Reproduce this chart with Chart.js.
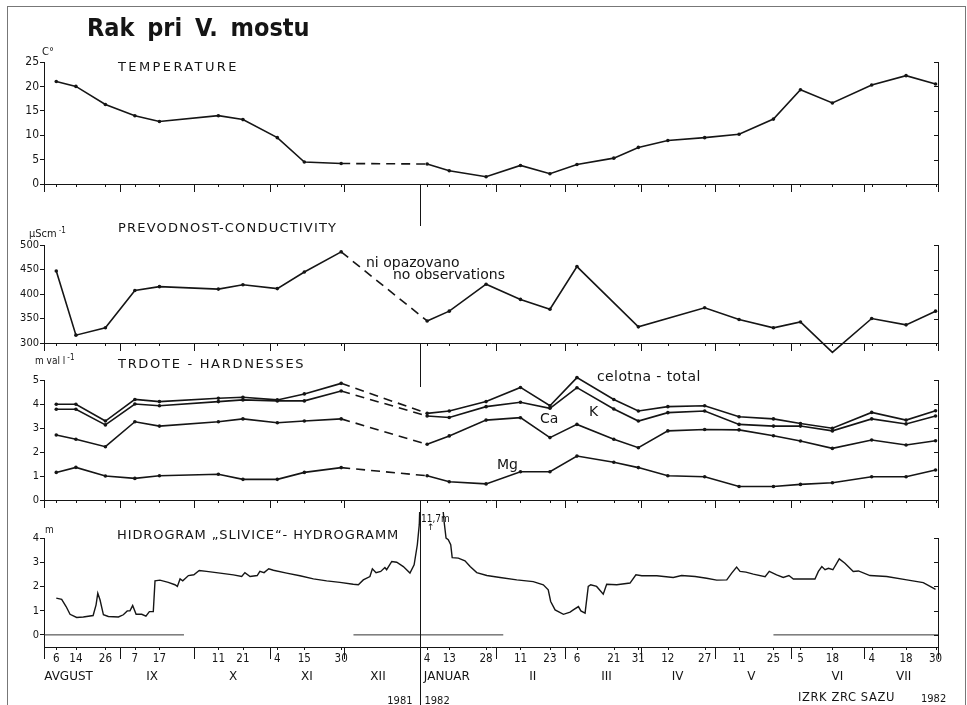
<!DOCTYPE html>
<html>
<head>
<meta charset="utf-8">
<script src="https://cdn.jsdelivr.net/npm/chart.js@4.4.1/dist/chart.umd.min.js"></script>
<style>
  body { margin: 0; background: #fff; }
  #wrap { position: relative; width: 967px; height: 705px; overflow: hidden; background: #fff;
          font-family: "DejaVu Sans", sans-serif; color: #151515; }
  canvas { position: absolute; left: 0; top: 0; }
  .t { position: absolute; white-space: nowrap; line-height: 1; }
  .cap { font-size: 13px; letter-spacing: 1.2px; }
  .cond { font-family: "DejaVu Sans Condensed", "DejaVu Sans", sans-serif; }
  .sup { font-size: 8px; position: relative; top: -4px; margin-left: 2px; }
  .frame { position: absolute; left: 7px; top: 6px; width: 957px; height: 720px; border: 1px solid #777; }
</style>
</head>
<body>
<div id="wrap">
  <div class="frame"></div>
  <canvas id="cTemp" width="967" height="705"></canvas>
  <canvas id="cCond" width="967" height="705"></canvas>
  <canvas id="cHard" width="967" height="705"></canvas>
  <canvas id="cHydro" width="967" height="705"></canvas>

  <div class="t cond" style="left:87px;top:15px;font-size:25px;font-weight:bold;word-spacing:5px">Rak pri V. mostu</div>

  <div class="t cond" style="left:42px;top:46px;font-size:11px">C°</div>
  <div class="t cap" style="left:118px;top:60px;letter-spacing:2.4px">TEMPERATURE</div>

  <div class="t cond" style="left:29px;top:228px;font-size:11px">µScm<span class="sup">-1</span></div>
  <div class="t cap" style="left:118px;top:221px">PREVODNOST-CONDUCTIVITY</div>
  <div class="t" style="left:366px;top:255px;font-size:14px">ni opazovano</div>
  <div class="t" style="left:393px;top:267px;font-size:14px">no observations</div>

  <div class="t cond" style="left:35px;top:356px;font-size:10px">m val l<span class="sup">-1</span></div>
  <div class="t cap" style="left:118px;top:357px;letter-spacing:1.7px">TRDOTE - HARDNESSES</div>
  <div class="t" style="left:597px;top:369px;font-size:14px;letter-spacing:0.4px">celotna - total</div>
  <div class="t" style="left:589px;top:404px;font-size:14px">K</div>
  <div class="t" style="left:540px;top:411px;font-size:14px">Ca</div>
  <div class="t" style="left:497px;top:457px;font-size:14px">Mg</div>

  <div class="t cond" style="left:45px;top:525px;font-size:10px">m</div>
  <div class="t cap" style="left:117px;top:528px;letter-spacing:0.9px">HIDROGRAM „SLIVICE“- HYDROGRAMM</div>
  <div class="t cond" style="left:421px;top:514px;font-size:10px">11,7m</div>
  <div class="t" style="left:427px;top:523px;font-size:9px">↑</div>

  <div class="t" style="left:798px;top:692px;font-size:11.5px;letter-spacing:0.6px">IZRK ZRC SAZU</div>
  <div class="t cond" style="left:921px;top:693px;font-size:11px">1982</div>
</div>

<script>
const INK = '#151515';
const H = 705;

// sampling dates (same for temperature, conductivity and hardness)
const sampleDates = ['1981-08-06', '1981-08-14', '1981-08-26', '1981-09-07', '1981-09-17', '1981-10-11',
  '1981-10-21', '1981-11-04', '1981-11-15', '1981-11-30', '1982-01-04', '1982-01-13', '1982-01-28',
  '1982-02-11', '1982-02-23', '1982-03-06', '1982-03-21', '1982-03-31', '1982-04-12', '1982-04-27',
  '1982-05-11', '1982-05-25', '1982-06-05', '1982-06-18', '1982-07-04', '1982-07-18', '1982-07-30'];

const temperature = [21, 20, 16.3, 14, 12.8, 14, 13.2, 9.5, 4.5, 4.2, 4.1, 2.7, 1.5, 3.8, 2.1, 4.0,
  5.3, 7.5, 8.9, 9.5, 10.2, 13.3, 19.3, 16.6, 20.3, 22.2, 20.5];

const conductivity = [447, 316, 331, 407, 415, 410, 419, 411, 445, 486, 345, 365, 420, 389, 369, 456,
  null, 333, null, 372, 348, 331, 343, 281, 350, 337, 365];

const hardTotal = [3.99, 3.99, 3.29, 4.19, 4.1, 4.24, 4.28, 4.17, 4.42, 4.86, 3.61, 3.71, 4.1, 4.69,
  3.93, 5.1, 4.19, 3.71, 3.89, 3.93, 3.47, 3.38, 3.19, 2.99, 3.65, 3.33, 3.72];
const hardK = [3.78, 3.78, 3.13, 4.0, 3.93, 4.1, 4.17, 4.13, 4.13, 4.54, 3.5, 3.44, 3.89, 4.07, 3.82,
  4.68, 3.79, 3.29, 3.64, 3.71, 3.15, 3.08, 3.08, 2.88, 3.38, 3.17, 3.5];
const hardCa = [2.71, 2.53, 2.22, 3.26, 3.08, 3.26, 3.38, 3.22, 3.29, 3.38, 2.32, 2.67, 3.33, 3.43, 2.6,
  3.15, 2.53, 2.18, 2.88, 2.94, 2.92, 2.68, 2.46, 2.15, 2.5, 2.29, 2.47];
const hardMg = [1.15, 1.36, 1.0, 0.9, 1.01, 1.07, 0.86, 0.86, 1.15, 1.35, 1.01, 0.76, 0.67, 1.18, 1.18,
  1.83, 1.57, 1.35, 1.01, 0.97, 0.56, 0.56, 0.65, 0.72, 0.97, 0.97, 1.25];

// hydrogram: days after 1 Aug 1981, water level in m
const hydroDays = [5, 7.2, 9, 10.6, 13.3, 16, 20, 21.2, 21.9, 22.8, 24.2, 26.2, 30.3, 32.3, 33.9, 35,
  36.1, 37.5, 39.8, 41.5, 42.9, 44.5, 45.2, 47.2, 50.6, 53.3, 54.3, 55.4, 56.5, 58.8, 61, 63.2, 66.2,
  71.7, 77.1, 80.5, 81.8, 83.9, 86.8, 87.9, 89.6, 91.5, 93.4, 98.8, 104.2, 109.7, 115.1, 120.5, 125.9,
  128, 130, 132.7, 133.7, 135.2, 137.1, 138.8, 139.5, 141.6, 143.6, 146.3, 149, 150.7, 152, 152.8, 154,
  155.5, 157.5, 160, 162.9, 163.7, 164.6, 165.6, 166.2, 168.7, 171.4, 173.5, 176.2, 180.3, 185.7, 192.5,
  199.2, 203.3, 205.3, 206.3, 208.1, 211.5, 214.2, 215.5, 217.6, 218.6, 220.3, 221.6, 222.6, 225, 227.7,
  229.1, 233.2, 238.6, 241, 243.4, 246.7, 249.5, 256.2, 259.6, 265.1, 269.8, 273.9, 278, 280, 282, 283.4,
  285.8, 288.8, 293.6, 295.3, 298.3, 301, 303.3, 305.1, 313.9, 315.3, 316.7, 318, 319.4, 321.2, 323.8,
  326.1, 329.5, 331.6, 336.3, 343.1, 351.3, 358, 362.1, 363];
const hydroLevels = [1.52, 1.47, 1.17, 0.85, 0.72, 0.74, 0.8, 1.24, 1.72, 1.45, 0.83, 0.76, 0.74, 0.83,
  0.99, 0.99, 1.21, 0.85, 0.85, 0.77, 0.96, 0.96, 2.23, 2.26, 2.17, 2.07, 2.0, 2.31, 2.23, 2.45, 2.48,
  2.66, 2.62, 2.55, 2.48, 2.41, 2.57, 2.41, 2.45, 2.62, 2.57, 2.73, 2.67, 2.55, 2.44, 2.31, 2.23, 2.17,
  2.09, 2.07, 2.27, 2.41, 2.73, 2.57, 2.62, 2.78, 2.69, 3.03, 3.0, 2.82, 2.55, 2.89, 3.72, 4.55, 8.5,
  11.7, 11.5, 8, 4.68, 4.0, 3.93, 3.72, 3.19, 3.17, 3.06, 2.82, 2.57, 2.45, 2.37, 2.27, 2.2, 2.07, 1.86,
  1.38, 1.03, 0.85, 0.94, 1.03, 1.17, 0.99, 0.9, 2.0, 2.07, 2.0, 1.68, 2.09, 2.07, 2.14, 2.48, 2.44,
  2.44, 2.44, 2.37, 2.45, 2.41, 2.34, 2.26, 2.27, 2.55, 2.8, 2.62, 2.59, 2.51, 2.4, 2.62, 2.48, 2.37,
  2.45, 2.31, 2.31, 2.62, 2.82, 2.69, 2.75, 2.69, 3.14, 2.96, 2.62, 2.64, 2.45, 2.41, 2.27, 2.16, 1.93, 1.88];

// stretches drawn on the zero line of the hydrogram (days after 1 Aug 1981)
const zeroStart = [0, 126, 297];
const zeroEnd = [57, 187, 364];

const monthStarts = ['1981-08-01', '1981-09-01', '1981-10-01', '1981-11-01', '1981-12-01', '1982-01-01',
  '1982-02-01', '1982-03-01', '1982-04-01', '1982-05-01', '1982-06-01', '1982-07-01', '1982-07-31'];
const monthNames = ['AVGUST', 'IX', 'X', 'XI', 'XII', 'JANUAR', 'II', 'III', 'IV', 'V', 'VI', 'VII'];
const monthLabelAt = ['1981-08-11', '1981-09-14', '1981-10-17', '1981-11-16', '1981-12-15', '1982-01-12',
  '1982-02-16', '1982-03-18', '1982-04-16', '1982-05-16', '1982-06-20', '1982-07-17'];

const tempTicks = [0, 5, 10, 15, 20, 25];
const condTicks = [300, 350, 400, 450, 500];
const hardTicks = [0, 1, 2, 3, 4, 5];
const hydroTicks = [0, 1, 2, 3, 4];

const dayOf = s => (Date.UTC(+s.slice(0, 4), +s.slice(5, 7) - 1, +s.slice(8, 10)) - Date.UTC(1981, 7, 1)) / 864e5;
const sampleDays = sampleDates.map(dayOf);
const gapStart = dayOf('1981-11-30');
const janFirst = dayOf('1982-01-01');

function series(values) {
  return {
    data: sampleDays.map((d, i) => ({ x: d, y: values[i] })),
    borderColor: INK, borderWidth: 1.6, pointRadius: 1.8, pointBackgroundColor: INK,
    pointBorderWidth: 0, tension: 0, spanGaps: true, clip: 20,
    segment: { borderDash: c => c.p0.parsed.x === gapStart ? [9, 6] : undefined }
  };
}

// month ticks, sample ticks, inward ticks on the right axis, the 1981/1982 divider and date labels
const dateAxis = {
  id: 'dateAxis',
  afterDraw(chart, args, o) {
    const { ctx, chartArea: a, scales: { x, y } } = chart;
    ctx.save();
    ctx.strokeStyle = INK;
    ctx.lineWidth = 1;
    ctx.beginPath();
    monthStarts.forEach(m => {
      const px = Math.round(x.getPixelForValue(dayOf(m))) + 0.5;
      ctx.moveTo(px, a.bottom); ctx.lineTo(px, a.bottom + o.monthTick);
    });
    sampleDays.forEach(d => {
      const px = Math.round(x.getPixelForValue(d)) + 0.5;
      ctx.moveTo(px, a.bottom); ctx.lineTo(px, a.bottom + o.sampleTick);
    });
    y.ticks.forEach(t => {
      const py = Math.round(y.getPixelForValue(t.value)) + 0.5;
      ctx.moveTo(a.right, py); ctx.lineTo(a.right - 4, py);
    });
    const j = Math.round(x.getPixelForValue(janFirst)) + 0.5;
    ctx.moveTo(j, a.bottom + o.divider[0]); ctx.lineTo(j, a.bottom + o.divider[1]);
    ctx.stroke();
    if (o.labels) {
      ctx.fillStyle = INK;
      ctx.textAlign = 'center';
      ctx.textBaseline = 'alphabetic';
      ctx.font = '11.5px "DejaVu Sans Condensed", "DejaVu Sans", sans-serif';
      sampleDates.forEach((s, i) => {
        ctx.fillText(String(+s.slice(8, 10)), x.getPixelForValue(sampleDays[i]), a.bottom + 15);
      });
      ctx.font = '12px "DejaVu Sans", sans-serif';
      monthNames.forEach((n, i) => {
        ctx.fillText(n, x.getPixelForValue(dayOf(monthLabelAt[i])), a.bottom + 33);
      });
      ctx.font = '11px "DejaVu Sans Condensed", "DejaVu Sans", sans-serif';
      ctx.textAlign = 'right';
      ctx.fillText('1981', j - 8, a.bottom + 57);
      ctx.textAlign = 'left';
      ctx.fillText('1982', j + 4, a.bottom + 57);
    }
    ctx.restore();
  }
};

function makePanel(id, p) {
  const tickList = s => { s.ticks = p.ticks.map(v => ({ value: v })); };
  return new Chart(document.getElementById(id), {
    type: 'line',
    data: { datasets: p.datasets },
    options: {
      responsive: false,
      animation: false,
      events: [],
      layout: { padding: { top: p.top, left: 0, right: 0, bottom: 0 } },
      plugins: { legend: { display: false }, tooltip: { enabled: false }, dateAxis: p.axis },
      scales: {
        x: {
          type: 'linear', min: 0, max: 364,
          ticks: { display: false }, grid: { display: false },
          border: { color: INK, width: 1 },
          afterFit: s => { s.height = H - p.bottom; }
        },
        y: {
          type: 'linear', min: p.min, max: p.max,
          afterBuildTicks: tickList,
          ticks: { color: INK, font: p.font, padding: 1 },
          grid: { drawOnChartArea: false, tickLength: 4, color: INK },
          border: { color: INK, width: 1 },
          afterFit: s => { s.width = 44; }
        },
        y2: {
          type: 'linear', position: 'right', min: p.min, max: p.max,
          ticks: { display: false },
          grid: { display: false },
          border: { color: INK, width: 1 },
          afterFit: s => { s.width = 29; }
        }
      }
    },
    plugins: [dateAxis]
  });
}

const condFont = { family: '"DejaVu Sans Condensed", "DejaVu Sans", sans-serif', size: 11 };

makePanel('cTemp', {
  top: 62, bottom: 184, min: 0, max: 25, ticks: tempTicks,
  font: { family: '"DejaVu Sans Condensed", "DejaVu Sans", sans-serif', size: 12 },
  axis: { monthTick: 8, sampleTick: 3, divider: [0, 42], labels: false },
  datasets: [series(temperature)]
});

makePanel('cCond', {
  top: 245, bottom: 343, min: 300, max: 500, ticks: condTicks, font: condFont,
  axis: { monthTick: 8, sampleTick: 3, divider: [0, 44], labels: false },
  datasets: [series(conductivity)]
});

makePanel('cHard', {
  top: 380, bottom: 500, min: 0, max: 5, ticks: hardTicks, font: condFont,
  axis: { monthTick: 8, sampleTick: 3, divider: [0, 12], labels: false },
  datasets: [series(hardTotal), series(hardK), series(hardCa), series(hardMg)]
});

const hydroSets = [{
  data: hydroDays.map((d, i) => ({ x: d, y: hydroLevels[i] })),
  borderColor: INK, borderWidth: 1.4, pointRadius: 0, tension: 0,
  clip: { left: 0, top: 26, right: 0, bottom: 0 }
}];
zeroStart.forEach((s, i) => hydroSets.push({
  data: [{ x: s, y: 0 }, { x: zeroEnd[i], y: 0 }],
  borderColor: '#333', borderWidth: 1, pointRadius: 0
}));

makePanel('cHydro', {
  top: 538, bottom: 647, min: -0.5, max: 4, ticks: hydroTicks, font: condFont,
  axis: { monthTick: 12, sampleTick: 3, divider: [-137, 58], labels: true },
  datasets: hydroSets
});
</script>
</body>
</html>
